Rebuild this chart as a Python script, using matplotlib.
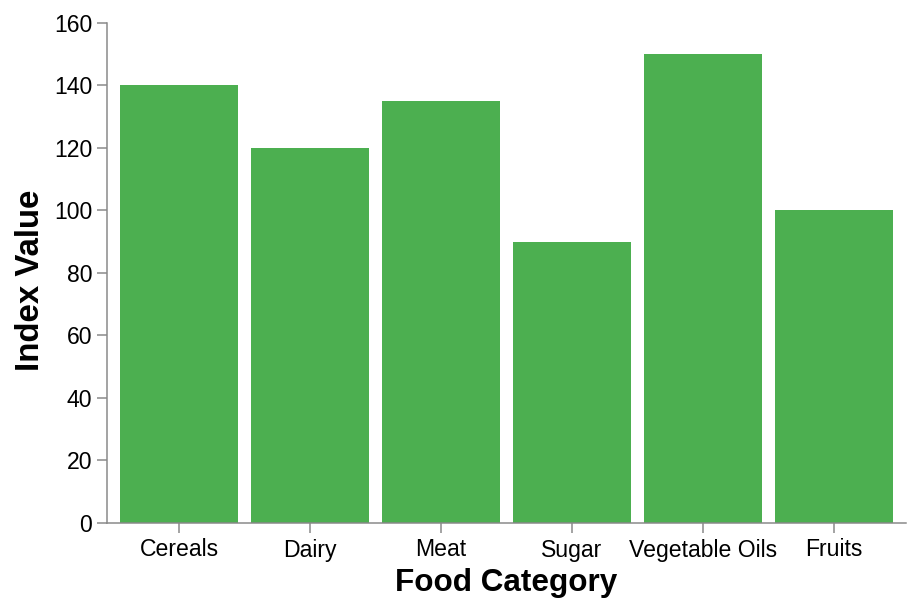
import matplotlib
matplotlib.use("Agg")
import matplotlib.pyplot as plt

categories = ["Cereals", "Dairy", "Meat", "Sugar", "Vegetable Oils", "Fruits"]
values = [140, 120, 135, 90, 150, 100]
yticks = [0, 20, 40, 60, 80, 100, 120, 140, 160]

plt.rcParams['font.family'] = ['Liberation Sans', 'DejaVu Sans']
PX = 0.72  # points per pixel at dpi 100

fig = plt.figure(figsize=(9.16, 6.08), dpi=100)
W, H = 916, 608
x0, x1, ytop, ybot = 107, 906, 23, 522.5
ax = fig.add_axes([x0 / W, (H - ybot) / H, (x1 - x0) / W, (ybot - ytop) / H])

xs = list(range(len(categories)))
ax.bar(xs, values, width=0.9, color="#4CAF50")
ax.set_xlim(-0.55, len(categories) - 0.45)
ax.set_ylim(0, 160)
ax.set_yticks(yticks)
ax.set_xticks(xs)
ax.set_xticklabels(categories)

axis_color = "#888888"
for s in ["top", "right"]:
    ax.spines[s].set_visible(False)
for s in ["left", "bottom"]:
    ax.spines[s].set_color(axis_color)
    ax.spines[s].set_linewidth(1.5 * PX)

ax.tick_params(axis="both", colors=axis_color, length=10 * PX, width=1.5 * PX,
               labelcolor="black", labelsize=23 * PX)
ax.tick_params(axis="y", pad=5 * PX)
ax.tick_params(axis="x", pad=6 * PX)

ax.set_xlabel("Food Category", fontsize=31.5 * PX, fontweight="bold", labelpad=7 * PX)
ax.set_ylabel("Index Value", fontsize=33 * PX, fontweight="bold")
ax.yaxis.set_label_coords(-(107 - 46) / (x1 - x0), (ybot - 280) / (ybot - ytop))

fig.savefig("out.png", dpi=100)
